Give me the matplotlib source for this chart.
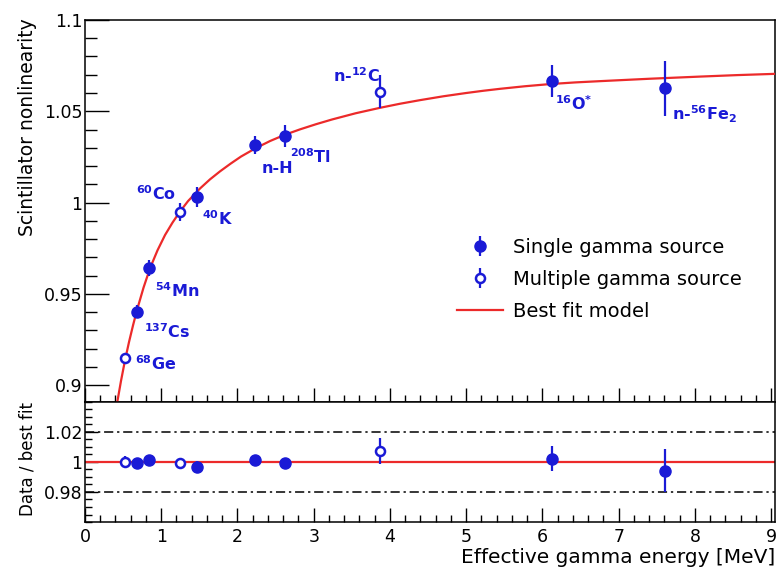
#!/usr/bin/env python3
"""Scintillator nonlinearity vs effective gamma energy, with data / best fit ratio.

Output: out.png (778x570)
"""

import matplotlib

matplotlib.use("Agg")
import matplotlib.pyplot as plt
from matplotlib.ticker import FixedLocator, FuncFormatter, MultipleLocator

# single gamma sources: 137Cs, 54Mn, 40K, n-H, 208Tl, 16O*, n-56Fe
single_e = [0.678, 0.844, 1.466, 2.231, 2.625, 6.125, 7.612]
single_nl = [0.9402, 0.9640, 1.0032, 1.0315, 1.0364, 1.0666, 1.0626]
single_err = [0.0037, 0.0045, 0.0055, 0.005, 0.006, 0.009, 0.015]
single_ratio = [0.9992, 1.0012, 0.9968, 1.0012, 0.9995, 1.0022, 0.9942]
single_ratio_err = [0.003, 0.0035, 0.004, 0.0035, 0.003, 0.0085, 0.0145]

# multiple gamma sources: 68Ge, 60Co, n-12C
multi_e = [0.525, 1.247, 3.871]
multi_nl = [0.9146, 0.9946, 1.0607]
multi_err = [0.003, 0.005, 0.009]
multi_ratio = [1.0002, 0.999, 1.0073]
multi_ratio_err = [0.0035, 0.0035, 0.0085]

# best fit model
fit_e = [0.424, 0.472, 0.525, 0.577, 0.630, 0.682, 0.768, 0.853, 0.951, 1.050,
         1.148, 1.247, 1.352, 1.509, 1.640, 1.772, 1.910, 2.047, 2.240, 2.428,
         2.620, 2.822, 3.030, 3.241, 3.550, 3.871, 4.130, 4.396, 4.700, 5.000,
         5.220, 5.446, 5.770, 6.102, 6.430, 6.759, 7.400, 8.071, 8.550, 9.055]
fit_nl = [0.8908, 0.9022, 0.9136, 0.9235, 0.9327, 0.9411, 0.9534, 0.9640, 0.9738,
          0.9822, 0.9890, 0.9951, 1.0008, 1.0077, 1.0127, 1.0171, 1.0213, 1.0252,
          1.0298, 1.0337, 1.0371, 1.0401, 1.0429, 1.0455, 1.0489, 1.0519, 1.0541,
          1.0561, 1.0582, 1.0600, 1.0612, 1.0623, 1.0637, 1.0649, 1.0658, 1.0665,
          1.0678, 1.0690, 1.0698, 1.0705]

source_names = ["$^{68}$Ge", "$^{137}$Cs", "$^{54}$Mn", "$^{60}$Co", "$^{40}$K",
                "n-H", "$^{208}$Tl", "n-$^{12}$C", "$^{16}$O$^{*}$",
                "n-$^{56}$Fe$_{2}$"]
name_x = [0.656, 0.774, 0.919, 0.669, 1.531, 2.319, 2.69, 3.25, 6.168, 7.70]
name_y = [0.9082, 0.9256, 0.9484, 1.0014, 0.9877, 1.016, 1.0215, 1.0662, 1.0507, 1.0452]

BLUE = "#1a1ad6"
RED = "#ec2a2a"

plt.rcParams["font.family"] = ["DejaVu Sans"]
plt.rcParams["mathtext.default"] = "regular"


def style_axis(ax, ymajor_len, yminor_len):
    for s in ax.spines.values():
        s.set_linewidth(1.1)
    ax.tick_params(which="both", direction="in", top=False, right=False, width=1.0)
    ax.tick_params(axis="x", which="major", length=10)
    ax.tick_params(axis="x", which="minor", length=5)
    ax.tick_params(axis="y", which="major", length=ymajor_len, pad=2)
    ax.tick_params(axis="y", which="minor", length=yminor_len)
    ax.tick_params(labelsize=12.5)
    ax.xaxis.set_major_locator(MultipleLocator(1))
    ax.xaxis.set_minor_locator(MultipleLocator(0.2))
    ax.set_xlim(0, 9.05)


def draw_points(ax, ys_single, es_single, ys_multi, es_multi):
    h1 = ax.errorbar(single_e, ys_single, yerr=es_single, fmt="o", color=BLUE,
                     ms=8, elinewidth=1.6, capsize=0, zorder=4)
    h2 = ax.errorbar(multi_e, ys_multi, yerr=es_multi, fmt="o", color=BLUE,
                     mfc="white", mec=BLUE, mew=1.8, ms=6.5, elinewidth=1.6,
                     capsize=0, zorder=4)
    return h1, h2


def main():
    fig = plt.figure(figsize=(7.78, 5.70), dpi=100)
    ax = fig.add_axes([0.10925, 0.29474, 0.88689, 0.67018])
    axr = fig.add_axes([0.10925, 0.08421, 0.88689, 0.21053], sharex=ax)

    # top panel
    style_axis(ax, 17, 8.5)
    fit_line, = ax.plot(fit_e, fit_nl, color=RED, lw=1.6, zorder=3)
    h1, h2 = draw_points(ax, single_nl, single_err, multi_nl, multi_err)
    ax.set_ylim(0.8907, 1.1)
    ax.yaxis.set_major_locator(FixedLocator([0.9, 0.95, 1.0, 1.05, 1.1]))
    ax.yaxis.set_minor_locator(MultipleLocator(0.01))
    ax.yaxis.set_major_formatter(FuncFormatter(lambda v, p: f"{v:g}"))
    ax.tick_params(axis="x", labelbottom=False)
    ax.set_ylabel("Scintillator nonlinearity", fontsize=13.5, loc="top")
    ax.yaxis.set_label_coords(-0.07, 1.005)

    for name, x, y in zip(source_names, name_x, name_y):
        ax.text(x, y, name, color=BLUE, fontsize=11.5, fontweight="bold",
                ha="left", va="baseline", zorder=5)

    ax.legend([h1, h2, fit_line],
              ["Single gamma source", "Multiple gamma source", "Best fit model"],
              loc="upper left", bbox_to_anchor=(0.587, 0.583),
              bbox_transform=fig.transFigure, frameon=False, fontsize=14,
              borderpad=0, borderaxespad=0, handlelength=2.4,
              handletextpad=0.5, labelspacing=0.68)

    # ratio panel
    style_axis(axr, 9, 5)
    axr.axhline(1.0, color=RED, lw=1.6, zorder=2)
    for level in (0.98, 1.02):
        axr.axhline(level, color="black", lw=1.1, ls=(0, (6, 2.5, 1.5, 2.5)),
                    zorder=1)
    draw_points(axr, single_ratio, single_ratio_err, multi_ratio, multi_ratio_err)
    axr.set_ylim(0.96, 1.04)
    axr.yaxis.set_major_locator(FixedLocator([0.98, 1.0, 1.02]))
    axr.yaxis.set_minor_locator(MultipleLocator(0.005))
    axr.yaxis.set_major_formatter(FuncFormatter(lambda v, p: f"{v:g}"))
    axr.tick_params(axis="x", pad=4)
    axr.set_ylabel("Data / best fit", fontsize=12, loc="top")
    axr.yaxis.set_label_coords(-0.07, 1.0)
    axr.set_xlabel("Effective gamma energy [MeV]", fontsize=14.5, loc="right",
                   va="top")
    axr.xaxis.set_label_coords(1.0, -0.215)

    fig.savefig("out.png", dpi=100)
    plt.close(fig)


if __name__ == "__main__":
    main()
